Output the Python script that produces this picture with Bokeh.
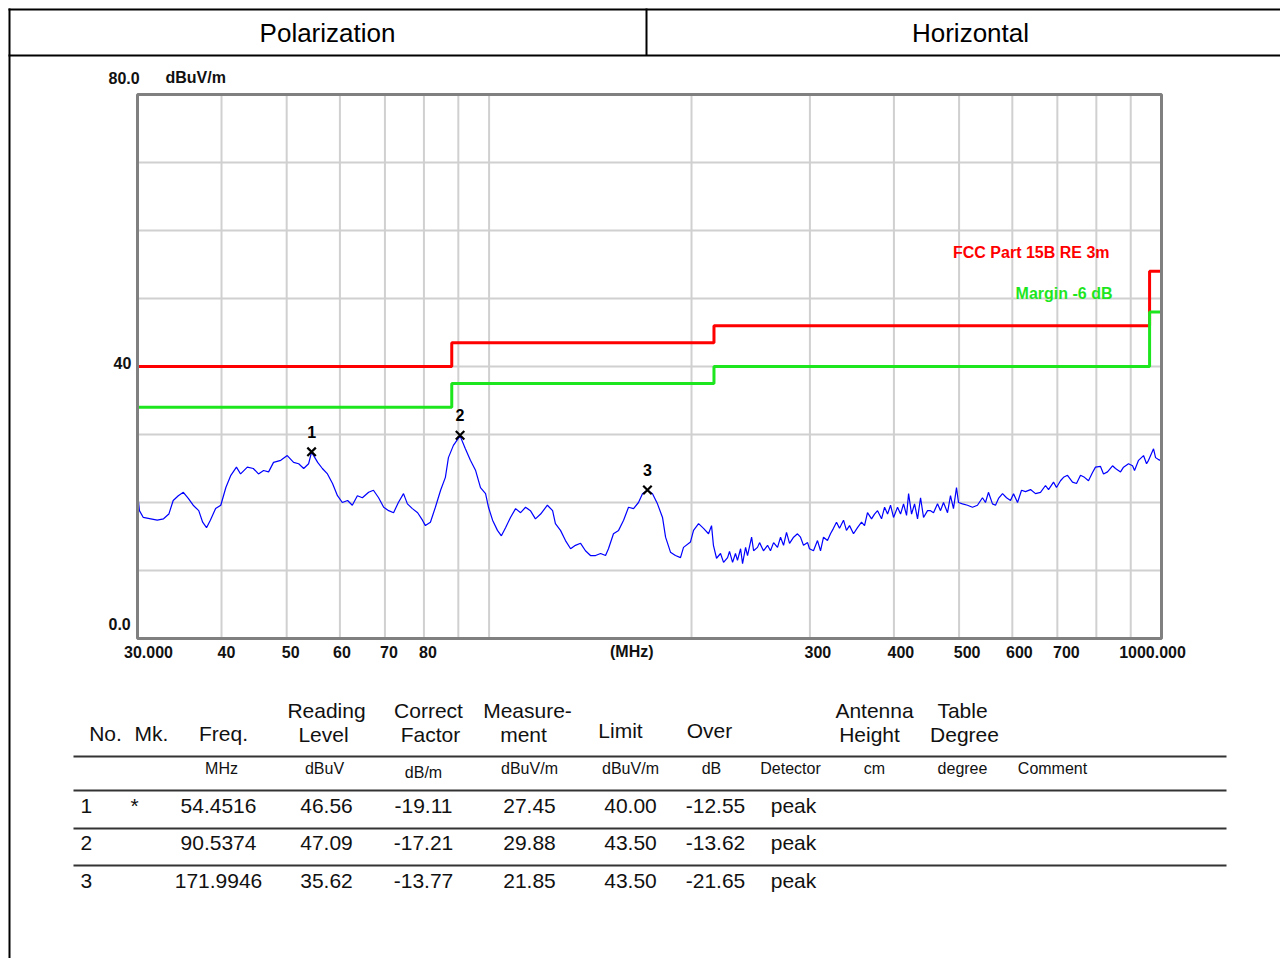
import math
from bokeh.plotting import figure
from bokeh.models import Range1d, LogScale, ColumnDataSource
from bokeh.embed import file_html
from bokeh.resources import INLINE
from bokeh.core.properties import value

# ---------------- data ----------------
header_cells = ["Polarization", "Horizontal"]

trace_freq = [
    30.0, 30.2, 30.6, 31.4, 32.1, 32.8, 33.4, 33.9, 34.5, 35.1, 35.7, 36.3, 37.0, 37.5, 38.0,
    38.5, 39.2, 39.9, 40.6, 41.3, 42.1, 42.7, 43.7, 44.6, 45.4, 46.2, 47.0, 47.8, 49.0, 50.1,
    51.2, 52.1, 53.0, 53.9, 54.45, 55.6, 56.5, 57.5, 58.5, 59.5, 60.5, 61.6, 62.6, 63.7, 64.8,
    66.2, 67.3, 68.5, 69.7, 70.9, 72.1, 73.3, 74.6, 75.6, 76.9, 78.3, 79.6, 80.4, 81.8, 83.2,
    84.7, 86.1, 87.0, 88.5, 90.54, 92.2, 93.8, 95.5, 97.1, 98.8, 99.8, 101.2, 102.9, 104.3, 105.8,
    107.6, 109.5, 111.4, 113.3, 115.2, 117.2, 119.3, 122.1, 124.3, 125.5, 127.7, 129.9, 132.2, 134.4, 136.8,
    139.1, 141.5, 144.0, 146.5, 149.0, 150.5, 153.1, 155.8, 158.5, 161.2, 164.0, 166.8, 169.1, 172.0, 175.0,
    178.0, 181.1, 183.0, 186.1, 189.3, 192.6, 194.6,
    199.3, 201.4, 204.9, 208.4, 212.0, 214.2, 215.6, 217.9, 220.9, 223.2,
    226.3, 227.8, 230.2, 232.5, 234.1, 236.6, 238.2, 240.7, 242.3, 245.7,
    247.4, 250.7, 252.5, 255.9, 259.5, 262.1, 264.9, 268.5, 271.3, 274.1,
    276.9, 279.8, 283.7, 287.5, 290.5, 293.5, 297.6, 299.6, 303.7, 307.9,
    311.1, 314.3, 318.6, 321.9, 325.2, 328.6, 332.0, 336.6, 340.0, 343.6,
    348.3, 353.1, 358.0, 361.7, 365.4, 370.5, 374.3, 378.2, 383.4, 387.4,
    391.4, 395.4, 399.5, 405.0, 409.2, 413.4, 417.7, 420.6, 424.9, 429.3,
    433.7, 438.2, 442.7, 448.8, 453.4,
    458.1, 464.4, 469.2, 474.0, 480.6, 485.5, 490.5, 495.6, 499.0, 505.9,
    514.6, 523.5, 532.5, 541.7, 547.3, 552.9, 560.6, 566.4, 572.3, 580.2,
    588.2, 596.3, 602.5, 610.8, 619.2, 627.7, 638.6, 649.6, 660.8, 672.2,
    679.2, 690.9, 698.0, 707.6, 715.0, 724.8, 737.3, 747.5, 757.8, 768.2,
    778.8, 789.6, 797.7, 811.5, 819.9, 831.2, 845.6, 854.3, 869.1, 878.1,
    893.2, 905.6, 911.8, 924.4, 940.3, 950.1, 956.6, 973.1, 979.9, 993.2, 1000.0,
]
trace_level = [
    21.5, 18.8, 17.8, 17.6, 17.4, 17.6, 18.3, 20.3, 21.0, 21.5, 20.6, 19.6, 18.8, 17.1, 16.3,
    17.4, 19.1, 19.6, 22.2, 24.0, 25.2, 24.2, 25.2, 25.0, 24.2, 24.7, 24.5, 25.9, 26.2, 26.9,
    25.9, 25.7, 25.0, 25.7, 27.4, 25.9, 25.0, 24.2, 22.8, 21.0, 20.0, 20.3, 19.6, 21.0, 20.7,
    21.5, 21.8, 20.7, 19.3, 18.8, 18.5, 20.0, 21.3, 19.8, 19.1, 18.5, 17.4, 16.6, 17.1, 19.3,
    21.8, 23.7, 26.6, 28.4, 29.8, 27.9, 26.2, 24.7, 22.2, 21.3, 19.3, 17.4, 15.9, 15.1, 16.3,
    17.8, 19.1, 18.5, 19.3, 18.8, 17.6, 18.3, 19.6, 18.8, 16.9, 15.9, 14.4, 13.2, 13.7, 14.0,
    12.9, 12.2, 12.2, 12.5, 12.2, 13.2, 15.4, 15.9, 17.4, 19.3, 19.1, 20.0, 21.3, 21.8, 21.3,
    19.8, 17.8, 14.9, 12.7, 12.2, 11.9, 13.4,
    14.2, 15.9, 16.9, 16.2, 15.4, 16.6, 13.7, 11.8, 12.5, 11.2,
    11.9, 12.8, 11.2, 12.5, 11.5, 13.2, 11.0, 13.4, 12.2, 14.9,
    12.9, 13.4, 14.1, 12.9, 13.7, 12.9, 14.1, 13.4, 14.9, 13.7,
    15.6, 14.0, 14.9, 15.4, 14.9, 13.7, 14.1, 13.2, 12.9, 14.4,
    12.9, 14.9, 14.4, 15.4, 16.2, 17.1, 16.2, 17.4, 15.9, 16.6,
    15.4, 16.3, 17.1, 16.6, 18.5, 17.6, 18.3, 18.8, 17.6, 19.3,
    18.3, 19.6, 17.8, 19.3, 18.3, 19.8, 18.1, 21.3, 18.3, 19.8,
    17.6, 20.7, 17.8, 18.8, 18.8,
    18.5, 19.8, 18.8, 20.0, 18.5, 21.0, 19.1, 22.2, 20.0, 19.8,
    19.6, 19.3, 19.6, 20.7, 20.0, 21.5, 19.8, 19.6, 20.6, 21.3,
    20.7, 20.3, 21.3, 20.0, 21.8, 21.6, 21.9, 21.3, 21.5, 22.5,
    21.9, 23.0, 22.2, 23.2, 23.7, 24.0, 23.0, 22.8, 24.0, 23.7,
    23.2, 24.4, 25.2, 25.3, 24.2, 24.5, 25.4, 25.0, 24.5, 25.2,
    25.7, 25.4, 24.7, 26.2, 26.9, 25.7, 26.2, 27.9, 26.6, 26.2, 26.5,
]

limit_freq_edges = [30, 88, 216, 960, 1000]
limit_level = [40.0, 43.5, 46.0, 54.0, 54.0]
margin_level = [34.0, 37.5, 40.0, 48.0, 48.0]
limit_name = "FCC Part 15B RE 3m"
margin_name = "Margin -6 dB"

marker_no = ["1", "2", "3"]
marker_freq = [54.4516, 90.5374, 171.9946]
marker_level = [27.45, 29.88, 21.85]

freq_min, freq_max = 30, 1000
level_min, level_max = 0, 80
x_tick_values = [30, 40, 50, 60, 70, 80, 163, 300, 400, 500, 600, 700, 1000]
x_tick_labels = ["30.000", "40", "50", "60", "70", "80", "(MHz)", "300", "400", "500", "600", "700", "1000.000"]
x_grid_values = [40, 50, 60, 70, 80, 90, 100, 200, 300, 400, 500, 600, 700, 800, 900]
y_tick_values = [80, 40, 0]
y_tick_labels = ["80.0", "40", "0.0"]
y_unit = "dBuV/m"
y_grid_values = [10, 20, 30, 40, 50, 60, 70]

table_head_1 = ["Reading", "Correct", "Measure-", "Antenna", "Table"]
table_head_2 = ["No.", "Mk.", "Freq.", "Level", "Factor", "ment", "Limit", "Over", "Height", "Degree"]
table_units = ["MHz", "dBuV", "dB/m", "dBuV/m", "dBuV/m", "dB", "Detector", "cm", "degree", "Comment"]
col_no = ["1", "2", "3"]
col_mk = ["*", "", ""]
col_freq = ["54.4516", "90.5374", "171.9946"]
col_reading = ["46.56", "47.09", "35.62"]
col_correct = ["-19.11", "-17.21", "-13.77"]
col_measure = ["27.45", "29.88", "21.85"]
col_limit = ["40.00", "43.50", "43.50"]
col_over = ["-12.55", "-13.62", "-21.65"]
col_detector = ["peak", "peak", "peak"]

# ---------------- layout / style ----------------
FONT = "Liberation Sans"
RED = "#FF0000"
GREEN = "#1EE61E"
BLUE = "#0000FF"
TXT = "#111111"
W, H = 1280, 958                      # page canvas, page pixel coordinates
CH_L, CH_R, CH_T, CH_B = 137, 1161, 94, 638   # chart plot-area box on the page

# the chart's log frequency scale and linear level scale, stretched over the page canvas
dec_per_px = (math.log10(freq_max) - math.log10(freq_min)) / (CH_R - CH_L)
f_lo = 10 ** (math.log10(freq_min) - CH_L * dec_per_px)
f_hi = 10 ** (math.log10(freq_max) + (W - CH_R) * dec_per_px)
db_per_px = (level_max - level_min) / (CH_B - CH_T)
db_lo = level_min - (H - CH_B) * db_per_px
db_hi = level_max + CH_T * db_per_px

p = figure(width=W, height=H, x_range=Range1d(0, W), y_range=Range1d(H, 0),
           x_axis_location=None, y_axis_location=None, toolbar_location=None,
           output_backend="svg", min_border=0)
p.extra_x_ranges = {"f": Range1d(f_lo, f_hi)}
p.extra_x_scales = {"f": LogScale()}
p.extra_y_ranges = {"db": Range1d(db_lo, db_hi)}
p.xgrid.visible = False
p.ygrid.visible = False
p.outline_line_color = None
p.background_fill_color = "white"
p.border_fill_color = "white"
C = dict(x_range_name="f", y_range_name="db")

# ---- page frame + header row (page coords) ----
p.segment(x0=[9], y0=[8], x1=[9], y1=[H], line_color="black", line_width=2)
p.segment(x0=[8, 8, 646], y0=[9, 55, 8], x1=[W, W, 646], y1=[9, 55, 55],
          line_color="black", line_width=2)
p.text(x=[327, 970], y=[32, 32], text=header_cells, text_font=value(FONT),
       text_font_size="26px", text_align="center", text_baseline="middle", text_color="black")

# ---- chart ----
nvg = len(x_grid_values)
p.segment(x0=x_grid_values, y0=[level_min] * nvg, x1=x_grid_values, y1=[level_max] * nvg,
          line_color="#D0D0D0", line_width=2, **C)
nhg = len(y_grid_values)
p.segment(x0=[freq_min] * nhg, y0=y_grid_values, x1=[freq_max] * nhg, y1=y_grid_values,
          line_color="#D0D0D0", line_width=2, **C)

p.step(x=limit_freq_edges, y=limit_level, mode="after", line_color=RED, line_width=3, **C)
p.step(x=limit_freq_edges, y=margin_level, mode="after", line_color=GREEN, line_width=3, **C)
p.line(x=trace_freq, y=trace_level, line_color=BLUE, line_width=1.2, **C)

p.quad(left=[freq_min], right=[freq_max], bottom=[level_min], top=[level_max],
       fill_color=None, line_color="#808080", line_width=3, **C)

msrc = ColumnDataSource(dict(x=marker_freq, y=marker_level, t=marker_no))
p.scatter(x="x", y="y", source=msrc, marker="x", size=12, line_width=2.2, line_color="black", **C)
p.text(x="x", y="y", text="t", source=msrc, y_offset=-20, text_align="center",
       text_baseline="middle", text_font=value(FONT), text_font_style="bold",
       text_font_size="16px", text_color="black", **C)

x_label_dx = [11, 5, 4, 2, 4, 4, 0, 8, 7, 8, 7, 9, -9]
xsrc = ColumnDataSource(dict(x=x_tick_values, y=[level_min] * len(x_tick_values),
                             t=x_tick_labels, dx=x_label_dx))
p.text(x="x", y="y", text="t", source=xsrc, x_offset="dx", y_offset=13, text_align="center",
       text_baseline="middle", text_font=value(FONT), text_font_style="bold",
       text_font_size="16px", text_color=TXT, **C)

y_label_dx = [-29, -24, -29]
y_label_dy = [-17, -4, -15]
ysrc = ColumnDataSource(dict(x=[freq_min] * 3, y=y_tick_values, t=y_tick_labels,
                             dx=y_label_dx, dy=y_label_dy))
p.text(x="x", y="y", text="t", source=ysrc, x_offset="dx", y_offset="dy", text_align="left",
       text_baseline="middle", text_font=value(FONT), text_font_style="bold",
       text_font_size="16px", text_color=TXT, **C)
p.text(x=[freq_min], y=[level_max], text=[y_unit], x_offset=28, y_offset=-17, text_align="left",
       text_baseline="middle", text_font=value(FONT), text_font_style="bold",
       text_font_size="16px", text_color=TXT, **C)

p.text(x=[freq_max], y=[56.8], text=[limit_name], x_offset=-52, text_align="right",
       text_baseline="middle", text_font=value(FONT), text_font_style="bold",
       text_font_size="16px", text_color=RED, **C)
p.text(x=[freq_max], y=[50.7], text=[margin_name], x_offset=-49, text_align="right",
       text_baseline="middle", text_font=value(FONT), text_font_style="bold",
       text_font_size="16px", text_color=GREEN, **C)

# ---- result table (page coords) ----
rule_y = [756, 790, 828, 865]
p.segment(x0=[73] * 4, y0=rule_y, x1=[1226] * 4, y1=rule_y, line_color="#333333", line_width=2)

head1_x = [326, 428, 527, 874, 962]
head2_x = [105, 151, 223, 323, 430, 523, 620, 709, 869, 964]
head2_y = [733, 733, 733, 734, 734, 734, 730, 730, 734, 734]
units_x = [221, 324, 423, 529, 630, 711, 790, 874, 962, 1052]
units_y = [768, 768, 772, 768, 768, 768, 768, 768, 768, 768]
p.text(x=head1_x, y=[710] * 5, text=table_head_1, text_font=value(FONT), text_font_size="21px",
       text_align="center", text_baseline="middle", text_color=TXT)
p.text(x=head2_x, y=head2_y, text=table_head_2, text_font=value(FONT), text_font_size="21px",
       text_align="center", text_baseline="middle", text_color=TXT)
p.text(x=units_x, y=units_y, text=table_units, text_font=value(FONT), text_font_size="16px",
       text_align="center", text_baseline="middle", text_color=TXT)

row_y = [805, 842, 880]
columns = [col_mk, col_freq, col_reading, col_correct, col_measure, col_limit, col_over, col_detector]
col_x = [134, 218, 326, 423, 529, 630, 715, 793]
p.text(x=[80] * 3, y=row_y, text=col_no, text_font=value(FONT), text_font_size="21px",
       text_align="left", text_baseline="middle", text_color=TXT)
for cx, vals in zip(col_x, columns):
    p.text(x=[cx] * 3, y=row_y, text=vals, text_font=value(FONT), text_font_size="21px",
           text_align="center", text_baseline="middle", text_color=TXT)

open("out.html", "w").write(file_html(p, INLINE))
